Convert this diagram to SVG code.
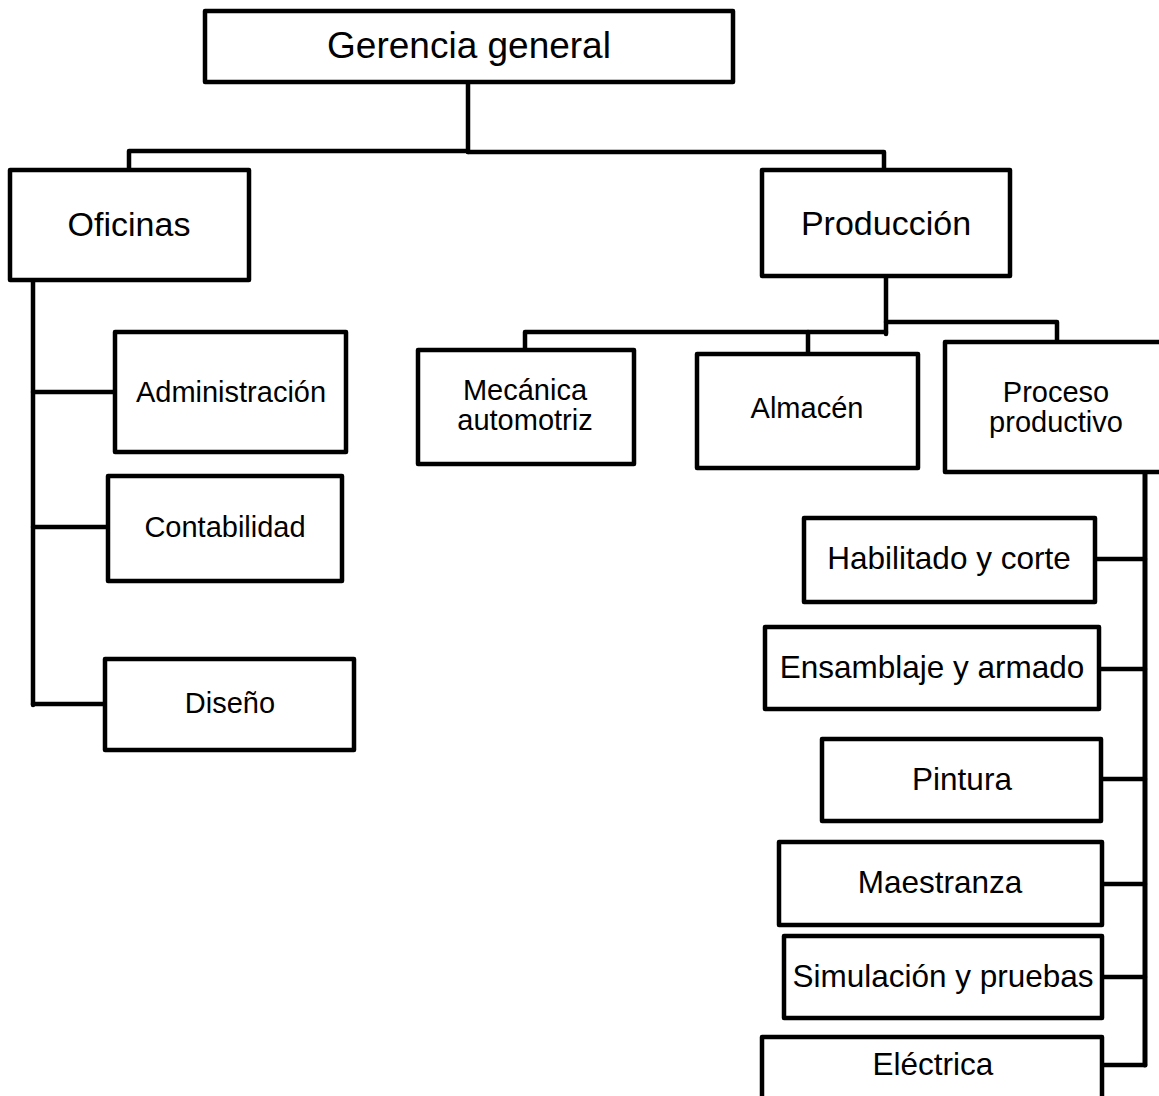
<svg xmlns="http://www.w3.org/2000/svg" width="1159" height="1096" viewBox="0 0 1159 1096">
  <style>
    .box { fill: #ffffff; stroke: #000000; stroke-width: 4.5; stroke-linejoin: round; }
    .link { fill: none; stroke: #000000; stroke-width: 4.5; stroke-linecap: round; stroke-linejoin: round; }
    text { font-family: "Liberation Sans", Arial, sans-serif; fill: #000000; text-anchor: middle; }
    .t1 { font-size: 37px; }
    .t2 { font-size: 34px; }
    .t3 { font-size: 29px; }
    .t4 { font-size: 31.5px; }
  </style>

  <rect width="1159" height="1096" fill="#ffffff"/>

  <!-- connectors -->
  <g id="connectors">
    <path class="link" d="M468 84 V152"/>
    <path class="link" d="M129 168 V151 H468"/>
    <path class="link" d="M468 152 H884 V168"/>
    <path class="link" d="M33 282 V705"/>
    <path class="link" d="M33 392 H113"/>
    <path class="link" d="M33 527 H106"/>
    <path class="link" d="M33 704 H103"/>
    <path class="link" d="M886 278 V334"/>
    <path class="link" d="M525 348 V332 H886"/>
    <path class="link" d="M808 352 V332"/>
    <path class="link" d="M886 322 H1057 V340"/>
    <path class="link" d="M1145 474 V1065" style="stroke-width:5"/>
    <path class="link" d="M1097 559 H1145"/>
    <path class="link" d="M1101 669 H1145"/>
    <path class="link" d="M1103 779 H1145"/>
    <path class="link" d="M1104 884 H1145"/>
    <path class="link" d="M1104 977 H1145"/>
    <path class="link" d="M1104 1065 H1145"/>
  </g>

  <g id="gerencia">
    <rect class="box" x="205" y="11" width="528" height="71"/>
    <text class="t1" x="469" y="58">Gerencia general</text>
  </g>

  <g id="oficinas">
    <rect class="box" x="10" y="170" width="239" height="110"/>
    <text class="t2" x="129" y="236">Oficinas</text>
  </g>

  <g id="produccion">
    <rect class="box" x="762" y="170" width="248" height="106"/>
    <text class="t2" x="886" y="235">Producción</text>
  </g>

  <g id="administracion">
    <rect class="box" x="115" y="332" width="231" height="120"/>
    <text class="t3" x="231" y="402">Administración</text>
  </g>

  <g id="contabilidad">
    <rect class="box" x="108" y="476" width="234" height="105"/>
    <text class="t3" x="225" y="537">Contabilidad</text>
  </g>

  <g id="diseno">
    <rect class="box" x="105" y="659" width="249" height="91"/>
    <text class="t3" x="230" y="713">Diseño</text>
  </g>

  <g id="mecanica">
    <rect class="box" x="418" y="350" width="216" height="114"/>
    <text class="t3" x="525" y="400">Mecánica</text>
    <text class="t3" x="525" y="430">automotriz</text>
  </g>

  <g id="almacen">
    <rect class="box" x="697" y="354" width="221" height="114"/>
    <text class="t3" x="807" y="418">Almacén</text>
  </g>

  <g id="proceso">
    <rect class="box" x="945" y="342" width="230" height="130"/>
    <text class="t3" x="1056" y="402">Proceso</text>
    <text class="t3" x="1056" y="432">productivo</text>
  </g>

  <g id="habilitado">
    <rect class="box" x="804" y="518" width="291" height="84"/>
    <text class="t4" x="949" y="569">Habilitado y corte</text>
  </g>

  <g id="ensamblaje">
    <rect class="box" x="765" y="627" width="334" height="82"/>
    <text class="t4" x="932" y="678">Ensamblaje y armado</text>
  </g>

  <g id="pintura">
    <rect class="box" x="822" y="739" width="279" height="82"/>
    <text class="t4" x="962" y="790">Pintura</text>
  </g>

  <g id="maestranza">
    <rect class="box" x="779" y="842" width="323" height="83"/>
    <text class="t4" x="940" y="893">Maestranza</text>
  </g>

  <g id="simulacion">
    <rect class="box" x="784" y="936" width="318" height="82"/>
    <text class="t4" x="943" y="987">Simulación y pruebas</text>
  </g>

  <g id="electrica">
    <rect class="box" x="762" y="1037" width="340" height="70"/>
    <text class="t4" x="933" y="1075">Eléctrica</text>
  </g>
</svg>
